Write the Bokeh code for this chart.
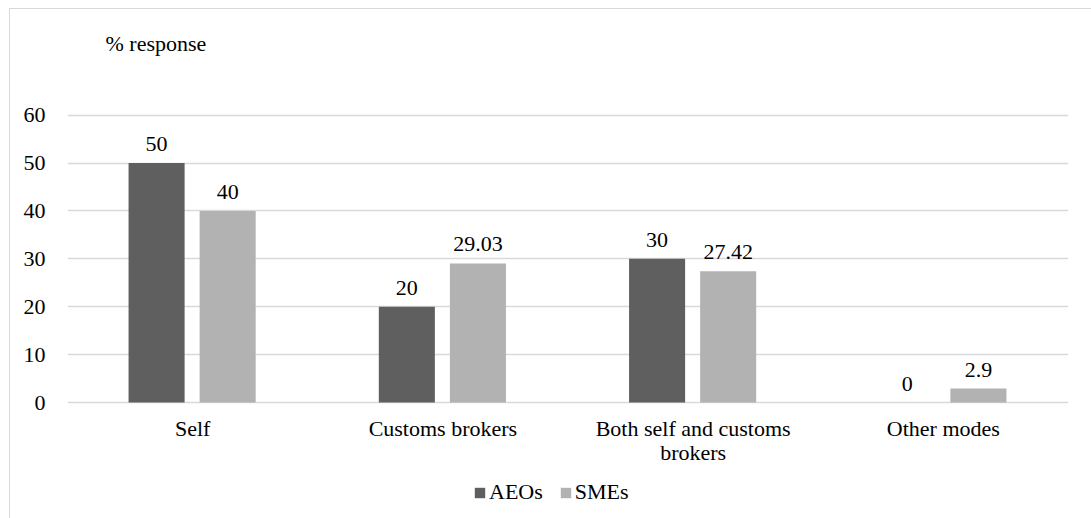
from bokeh.plotting import figure
from bokeh.layouts import column
from bokeh.models import ColumnDataSource, FixedTicker, Range1d, FactorRange, LabelSet, Label, Legend, LegendItem
from bokeh.transform import dodge
from bokeh.embed import file_html
from bokeh.resources import INLINE

categories = ["Self", "Customs brokers", "Both self and customs\nbrokers", "Other modes"]
aeos = [50, 20, 30, 0]
smes = [40, 29.03, 27.42, 2.9]
aeo_labels = ["50", "20", "30", "0"]
sme_labels = ["40", "29.03", "27.42", "2.9"]
y_ticks = [0, 10, 20, 30, 40, 50, 60]
y_title = "% response"

line1 = [c.split("\n")[0] for c in categories]
line2 = [c.split("\n")[1] if "\n" in c else "" for c in categories]
src = ColumnDataSource(dict(cat=categories, aeo=aeos, sme=smes, al=aeo_labels, sl=sme_labels,
                            l1=line1, l2=line2))

FONT = "Liberation Serif"
FS = "22px"
PX_PER_UNIT = 287.4 / 60.0
Y_MAX = 393 / PX_PER_UNIT
Y_MIN = -116 / PX_PER_UNIT

p = figure(width=1081, height=509, output_backend="svg", toolbar_location=None,
           x_range=FactorRange(*categories, range_padding=0), y_range=Range1d(Y_MIN, Y_MAX),
           min_border_left=57, min_border_right=23, min_border_top=0, min_border_bottom=0)
p.outline_line_color = None
p.background_fill_color = "white"
p.border_fill_color = "white"

r1 = p.vbar(x=dodge("cat", -0.144, range=p.x_range), top="aeo", width=0.224, source=src,
            fill_color="#5f5f5f", line_color=None)
r2 = p.vbar(x=dodge("cat", 0.14, range=p.x_range), top="sme", width=0.224, source=src,
            fill_color="#b2b2b2", line_color=None)

for col, yk, off in (("al", "aeo", -0.144), ("sl", "sme", 0.14)):
    ls = LabelSet(x=dodge("cat", off, range=p.x_range), y=yk, text=col, source=src,
                  text_align="center", text_baseline="bottom", y_offset=12,
                  text_font=FONT, text_font_size=FS, text_color="#000000")
    p.add_layout(ls)

# category labels under the baseline (each line centred)
for col, yoff in (("l1", -13), ("l2", -37)):
    p.add_layout(LabelSet(x="cat", y=0, text=col, source=src, text_align="center",
                          text_baseline="top", y_offset=yoff, text_font=FONT, text_font_size=FS,
                          text_color="#000000"))

# value-axis caption
p.add_layout(Label(x=0.152, y=359 / PX_PER_UNIT, text=y_title,
                   text_align="left", text_baseline="middle", text_font=FONT,
                   text_font_size=FS, text_color="#000000"))

p.xaxis.visible = False
p.xgrid.visible = False
p.ygrid.grid_line_color = "#d9d9d9"
p.ygrid.grid_line_width = 1.5
p.yaxis.ticker = FixedTicker(ticks=y_ticks)
p.yaxis.axis_line_color = None
p.yaxis.major_tick_line_color = None
p.yaxis.minor_tick_line_color = None
p.yaxis.major_label_standoff = 16
p.yaxis.major_label_text_font = FONT
p.yaxis.major_label_text_font_size = FS
p.yaxis.major_label_text_color = "#000000"

legend = Legend(items=[LegendItem(label="AEOs", renderers=[r1]), LegendItem(label="SMEs", renderers=[r2])],
                orientation="horizontal", location=(406, 13),
                label_text_font=FONT, label_text_font_size=FS, label_text_color="#000000",
                glyph_width=13, glyph_height=13, label_standoff=3, spacing=16,
                border_line_color=None, background_fill_alpha=0, margin=0, padding=4)
p.add_layout(legend)

layout = column(p, margin=(8, 0, 0, 9), styles={"border": "1px solid #d9d9d9"})
open("out.html", "w").write(file_html(layout, INLINE))
